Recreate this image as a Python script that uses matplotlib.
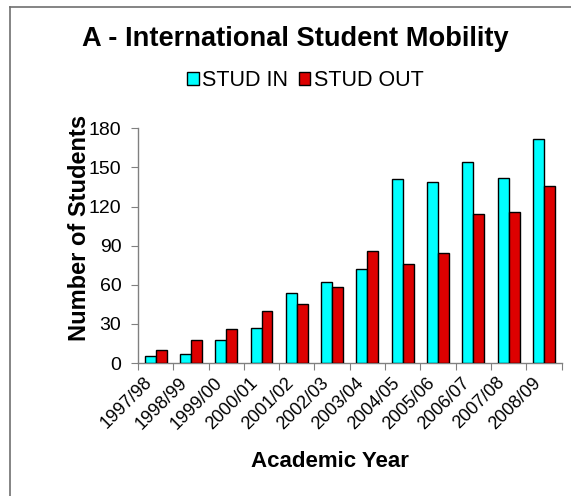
import matplotlib
matplotlib.use("Agg")
import matplotlib.pyplot as plt
import numpy as np
from matplotlib.lines import Line2D

years = ["1997/98", "1998/99", "1999/00", "2000/01", "2001/02", "2002/03",
         "2003/04", "2004/05", "2005/06", "2006/07", "2007/08", "2008/09"]
stud_in = [5, 7, 18, 27, 54, 62, 72, 141, 139, 154, 142, 172]
stud_out = [10, 18, 26, 40, 45, 58, 86, 76, 84, 114, 116, 136]
yticks = [0, 30, 60, 90, 120, 150, 180]

plt.rcParams['font.family'] = ['Liberation Sans', 'DejaVu Sans']

W, H = 571, 496
fig = plt.figure(figsize=(W / 100, H / 100), dpi=100)
ax_l, ax_r, ax_b, ax_t = 138, 561.5, 363, 128.3
ax = fig.add_axes([ax_l / W, 1 - ax_b / H, (ax_r - ax_l) / W, (ax_b - ax_t) / H])

x = np.arange(len(years))
bw = 0.31
ax.bar(x - bw / 2, stud_in, bw, color="#00FFFF", edgecolor="black", linewidth=1.0, label="STUD IN", zorder=3)
ax.bar(x + bw / 2, stud_out, bw, color="#DD0000", edgecolor="black", linewidth=1.0, label="STUD OUT", zorder=3)

ax.set_xlim(-0.5, len(years) - 0.5)
ax.set_ylim(0, 180)
ax.set_yticks(yticks)
ax.set_yticklabels([str(v) for v in yticks], fontsize=14)
ax.set_xticks(np.arange(len(years) + 1) - 0.5)
ax.set_xticklabels([])
ax.set_xticks(x, minor=True)
ax.set_xticklabels(years, minor=True, rotation=45, ha="right", fontsize=13)
ax.tick_params(axis="x", which="minor", length=0, pad=8)
ax.tick_params(axis="x", which="major", length=5, color="#808080", direction="out")
ax.tick_params(axis="y", length=5, color="#808080", direction="out", pad=7)

for s in ["top", "right"]:
    ax.spines[s].set_visible(False)
for s in ["left", "bottom"]:
    ax.spines[s].set_color("#808080")
    ax.spines[s].set_linewidth(1.0)

ax.set_ylabel("Number of Students", fontsize=17, fontweight="bold", va="center")
ax.yaxis.set_label_coords((80 - ax_l) / (ax_r - ax_l), (ax_b - 228) / (ax_b - ax_t))
ax.set_xlabel("Academic Year", fontsize=16, fontweight="bold", va="center")
ax.xaxis.set_label_coords((329.5 - ax_l) / (ax_r - ax_l), (ax_b - 462) / (ax_b - ax_t))

fig.text(295.5 / W, 1 - 38.5 / H, "A - International Student Mobility", fontsize=19.6,
         fontweight="bold", ha="center", va="center")

leg = fig.legend(loc="center", bbox_to_anchor=(305 / W, 1 - 81 / H), ncol=2, frameon=False,
                 fontsize=15.5, handlelength=0.55, handleheight=0.55, handletextpad=0.15,
                 columnspacing=0.5, borderpad=0)

fig.add_artist(Line2D([10 / W, 10 / W], [0, 1 - 7 / H], transform=fig.transFigure, color="#707070", lw=1.2))
fig.add_artist(Line2D([10 / W, 1], [1 - 7 / H, 1 - 7 / H], transform=fig.transFigure, color="#707070", lw=1.2))

fig.savefig("out.png", dpi=100)
